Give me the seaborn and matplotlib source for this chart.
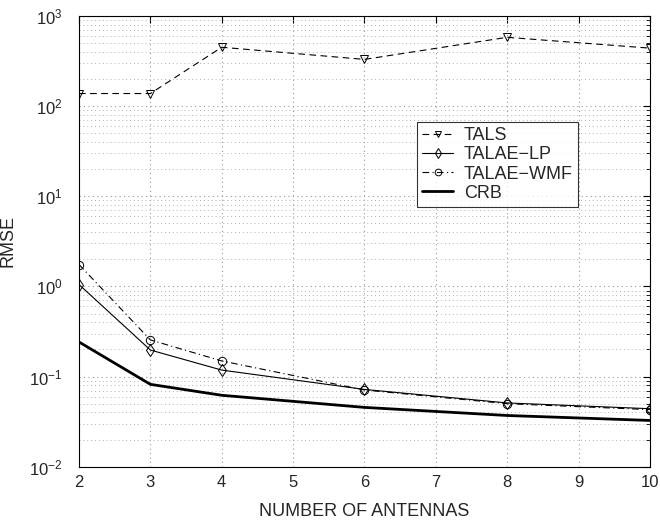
import numpy as np
import pandas as pd
import matplotlib
matplotlib.use('Agg')
import matplotlib.pyplot as plt
import seaborn as sns

# Data
antennas = [2, 3, 4, 6, 8, 10]
tals = [138, 138, 450, 330, 580, 440]
talae_lp = [1.05, 0.197, 0.118, 0.072, 0.051, 0.044]
talae_wmf = [1.75, 0.255, 0.149, 0.071, 0.050, 0.043]
crb = [0.242, 0.082, 0.062, 0.0455, 0.037, 0.0326]

sns.set_style('white')
plt.rcParams['font.family'] = ['Liberation Sans', 'DejaVu Sans']
plt.rcParams['mathtext.fontset'] = 'custom'
plt.rcParams['mathtext.rm'] = 'Liberation Sans'

fig = plt.figure(figsize=(6.6, 5.21), dpi=100)
ax = fig.add_axes([0.1197, 0.1042, 0.865, 0.8651])

mk = dict(markersize=6, markerfacecolor='none', markeredgecolor='black',
          markeredgewidth=0.7)

sns.lineplot(x=antennas, y=tals, ax=ax, color='black', lw=0.8,
             marker='v', label='TALS', **mk)
ax.lines[-1].set_dashes([6, 4])
sns.lineplot(x=antennas, y=talae_lp, ax=ax, color='black', lw=0.8,
             marker='d', label='TALAE\u2212LP', **mk)
sns.lineplot(x=antennas, y=talae_wmf, ax=ax, color='black', lw=0.8,
             marker='o', label='TALAE\u2212WMF', **mk)
ax.lines[-1].set_dashes([6, 3, 1, 3])
sns.lineplot(x=antennas, y=crb, ax=ax, color='black', lw=2.0, label='CRB')

ax.set_yscale('log')
ax.set_xlim(2, 10)
ax.set_ylim(1e-2, 1e3)
ax.set_xticks(range(2, 11))
ax.grid(True, which='major', linestyle=(0, (1, 3)), color='#999999', lw=0.8)
ax.grid(True, which='minor', linestyle=(0, (1, 3)), color='#b0b0b0', lw=0.7)
ax.tick_params(which='both', direction='in', top=True, right=True,
               labelsize=12, color='black')
ax.tick_params(which='major', length=5)
ax.tick_params(which='minor', length=3)
ax.tick_params(axis='x', which='both', pad=6)
ax.tick_params(axis='y', which='both', pad=12)
for s in ax.spines.values():
    s.set_color('black')
    s.set_linewidth(0.8)

ax.set_xlabel('NUMBER OF ANTENNAS', fontsize=13, labelpad=9)
ax.set_ylabel('RMSE', fontsize=13, labelpad=9)

leg = ax.legend(loc='lower left', bbox_to_anchor=(0.592, 0.576), fontsize=13,
                frameon=True, fancybox=False, edgecolor='black',
                handlelength=1.7, borderpad=0.3, labelspacing=0.12,
                handletextpad=0.6, borderaxespad=0, markerscale=0.8)
leg.get_frame().set_linewidth(0.8)

fig.savefig('out.png', dpi=100)
